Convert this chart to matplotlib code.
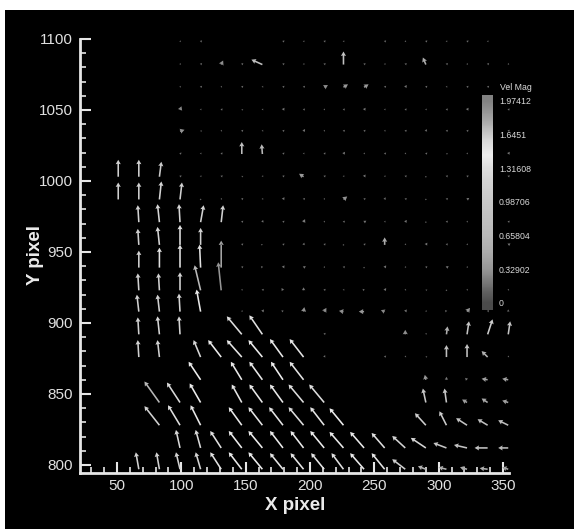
import numpy as np
import matplotlib
matplotlib.use("Agg")
import matplotlib.pyplot as plt
from matplotlib.colors import LinearSegmentedColormap, Normalize
from matplotlib.ticker import MultipleLocator
from matplotlib.patches import Rectangle
import matplotlib.transforms as mtransforms

W, H, DPI = 574, 529, 100
nan = np.nan

# grid of interrogation points (pixel coordinates)
x_grid = [51, 67, 83, 99, 115, 131, 147, 163, 179, 195, 211, 226, 242, 258, 274, 290, 306, 322, 338, 354]
y_grid = [797, 812, 828, 844, 860, 876, 892, 908, 923, 939, 955, 971, 987, 1003, 1019, 1035, 1050, 1066, 1082, 1098]

# velocity components, one list per row (bottom row first), columns left->right
u_r00 = [nan,-0.2,-0.2,-0.27,-0.33,-0.73,-0.87,-0.93,-0.87,-0.87,-0.87,-0.8,-0.93,-0.87,-0.87,-0.53,-0.53,-0.47,-0.53,-0.4]
v_r00 = [nan,1.13,1.13,1.13,1.13,1.13,1.13,1.13,1.07,1.07,1.07,1.07,1.07,1.07,0.67,0.2,0.13,0.13,0.07,0.13]
u_r01 = [nan,nan,nan,-0.27,-0.33,-0.73,-0.87,-0.93,-0.87,-0.87,-0.93,-0.93,-0.93,-0.87,-0.87,-1.0,-0.87,-0.87,-0.87,-0.67]
v_r01 = [nan,nan,nan,1.2,1.2,1.13,1.13,1.13,1.13,1.13,1.13,1.07,1.07,1.0,0.8,0.67,0.33,0.2,0.0,0.0]
u_r02 = [nan,nan,-1.0,-0.8,-0.67,nan,-0.87,-0.93,-0.93,-1.0,-0.93,-0.93,nan,nan,nan,-0.73,-0.47,-0.73,-0.67,-0.67]
v_r02 = [nan,nan,1.27,1.33,1.33,nan,1.2,1.2,1.2,1.2,1.2,1.13,nan,nan,nan,0.8,0.93,0.47,0.4,0.33]
u_r03 = [nan,nan,-1.0,-0.87,-0.73,nan,-0.67,-0.87,-0.87,-1.0,-1.0,nan,nan,nan,nan,-0.2,-0.13,-0.33,-0.4,-0.4]
v_r03 = [nan,nan,1.4,1.33,1.27,nan,1.2,1.2,1.2,1.2,1.2,nan,nan,nan,nan,0.93,0.93,0.2,0.27,0.13]
u_r04 = [nan,nan,nan,nan,-0.8,nan,-0.73,-0.87,-0.8,-0.93,nan,nan,nan,nan,nan,-0.07,0.0,-0.13,-0.4,-0.4]
v_r04 = [nan,nan,nan,nan,1.2,nan,1.2,1.2,1.2,1.2,nan,nan,nan,nan,nan,0.33,0.2,0.13,0.07,0.07]
u_r05 = [nan,-0.07,-0.13,nan,-0.47,-0.87,-1.0,-0.93,-0.87,-0.93,0.07,nan,nan,0.1,0.05,0.1,0.0,0.0,-0.4,0.05]
v_r05 = [nan,1.13,1.13,nan,1.13,1.13,1.13,1.13,1.2,1.2,0.13,nan,nan,0.1,0.1,0.05,0.8,0.87,0.4,0.1]
u_r06 = [nan,-0.07,-0.13,-0.07,nan,nan,-1.0,-0.87,nan,nan,0.1,nan,nan,nan,0.0,0.05,0.07,0.13,0.33,0.13]
v_r06 = [nan,1.13,1.2,1.2,nan,nan,1.2,1.27,nan,nan,0.1,nan,nan,nan,0.3,0.1,0.53,0.87,1.0,0.87]
u_r07 = [nan,-0.13,-0.13,-0.07,-0.27,nan,0.05,0.1,-0.1,0.05,0.15,-0.3,-0.35,-0.25,0.1,0.05,-0.1,0.2,0.1,0.0]
v_r07 = [nan,1.13,1.13,1.2,1.47,nan,0.1,0.15,0.1,0.3,0.25,0.05,0.0,0.1,0.15,0.1,0.1,0.25,0.1,0.15]
u_r08 = [nan,-0.07,-0.07,0.0,-0.4,-0.2,0.05,0.1,-0.1,0.0,0.1,0.05,-0.1,0.1,0.05,0.1,0.0,0.05,0.1,0.05]
v_r08 = [nan,1.13,1.13,1.2,1.67,1.87,0.1,0.1,0.15,0.2,0.1,0.1,0.1,0.15,0.1,0.05,0.1,0.1,0.1,0.1]
u_r09 = [nan,0.0,0.0,0.0,-0.07,0.0,0.1,-0.1,0.1,0.15,0.05,0.1,0.0,0.1,0.05,0.1,0.15,0.05,0.0,0.1]
v_r09 = [nan,1.13,1.33,1.53,1.53,1.8,0.1,0.1,0.15,0.1,0.1,0.1,0.1,0.15,0.1,0.1,0.1,0.1,0.15,0.1]
u_r10 = [nan,-0.07,-0.13,0.0,0.0,0.05,0.1,-0.1,0.1,0.05,0.1,0.0,0.1,0.0,0.05,0.1,0.1,0.05,0.1,0.15]
v_r10 = [nan,1.07,1.2,1.33,1.13,0.1,0.1,0.05,0.1,0.15,0.1,0.1,0.1,0.5,0.1,0.15,0.1,0.1,0.1,0.1]
u_r11 = [nan,-0.07,-0.13,-0.07,0.2,0.13,0.1,0.05,0.1,0.1,0.05,0.1,0.15,0.05,0.1,0.0,0.1,0.05,0.1,0.1]
v_r11 = [nan,1.13,1.2,1.2,1.13,1.13,0.1,0.15,0.1,0.2,0.1,0.1,0.1,0.1,0.15,0.1,0.1,0.1,0.15,0.1]
u_r12 = [0.0,0.0,0.13,0.13,0.0,0.05,0.1,0.05,0.1,0.1,0.05,0.25,0.1,0.05,0.1,0.0,0.1,0.15,0.05,0.1]
v_r12 = [1.13,1.13,1.2,1.13,0.1,0.1,0.1,0.1,0.15,0.1,0.1,0.2,0.1,0.15,0.1,0.1,0.1,0.1,0.1,0.1]
u_r13 = [0.0,0.0,0.13,0.1,0.05,0.1,0.1,0.05,0.1,-0.3,0.1,0.05,0.1,0.05,0.1,0.0,0.1,0.1,0.05,0.1]
v_r13 = [1.13,1.13,1.0,0.1,0.1,0.1,0.05,0.1,0.1,0.2,0.1,0.1,0.15,0.1,0.1,0.1,0.1,0.1,0.1,0.1]
u_r14 = [nan,nan,nan,0.1,0.05,0.1,0.0,-0.05,0.1,0.05,0.1,0.1,0.05,0.1,0.05,0.1,0.1,0.05,0.1,0.1]
v_r14 = [nan,nan,nan,0.1,0.1,0.1,0.8,0.65,0.1,0.1,0.1,0.15,0.1,0.1,0.1,0.1,0.05,0.1,0.1,0.15]
u_r15 = [nan,nan,nan,0.3,0.1,0.05,0.1,0.05,0.1,0.1,0.05,0.1,0.1,0.05,0.1,0.05,0.1,0.1,0.05,0.1]
v_r15 = [nan,nan,nan,0.1,0.05,0.1,0.1,0.1,0.1,0.15,0.1,0.1,0.1,0.1,0.1,0.15,0.1,0.1,0.1,0.1]
u_r16 = [nan,nan,nan,0.1,0.05,0.1,0.1,0.05,0.1,0.1,0.05,0.1,0.1,0.05,0.1,0.05,0.1,0.1,0.05,0.1]
v_r16 = [nan,nan,nan,0.25,0.1,0.1,0.05,0.1,0.15,0.1,0.1,0.1,0.15,0.1,0.1,0.1,0.1,0.15,0.1,0.1]
u_r17 = [nan,nan,nan,0.05,0.1,0.05,0.1,0.05,0.1,0.1,0.25,0.3,0.3,0.1,0.1,0.1,0.05,0.1,0.1,0.05]
v_r17 = [nan,nan,nan,0.1,0.1,0.1,0.1,0.1,0.1,0.1,0.15,0.2,0.2,0.1,0.15,0.1,0.1,0.1,0.1,0.1]
u_r18 = [nan,nan,nan,0.05,0.1,0.13,0.1,-0.73,0.1,0.05,0.1,0.0,0.1,0.05,0.1,-0.2,0.1,0.05,0.1,0.05]
v_r18 = [nan,nan,nan,0.1,0.1,0.27,0.1,0.33,0.1,0.1,0.1,0.87,0.1,0.1,0.1,0.47,0.1,0.1,0.1,0.1]
u_r19 = [nan,nan,nan,0.05,0.1,nan,nan,nan,0.1,0.05,0.1,0.05,nan,0.1,0.05,0.1,0.05,0.1,0.05,nan]
v_r19 = [nan,nan,nan,0.1,0.1,nan,nan,nan,0.1,0.1,0.1,0.1,nan,0.1,0.1,0.1,0.1,0.1,0.1,nan]

u_rows = [u_r00,u_r01,u_r02,u_r03,u_r04,u_r05,u_r06,u_r07,u_r08,u_r09,
          u_r10,u_r11,u_r12,u_r13,u_r14,u_r15,u_r16,u_r17,u_r18,u_r19]
v_rows = [v_r00,v_r01,v_r02,v_r03,v_r04,v_r05,v_r06,v_r07,v_r08,v_r09,
          v_r10,v_r11,v_r12,v_r13,v_r14,v_r15,v_r16,v_r17,v_r18,v_r19]

cbar_ticks = [0, 0.32902, 0.65804, 0.98706, 1.31608, 1.6451, 1.97412]
cbar_labels = ["0", "0.32902", "0.65804", "0.98706", "1.31608", "1.6451", "1.97412"]
vmax = 1.97412

# Tecplot-like gray ramp
cm_vals = [0, 0.1, 0.2, 0.33, 0.5, 0.66, 0.99, 1.2, 1.32, 1.45, 1.6, 1.8, vmax]
cm_gray = [75, 95, 120, 150, 172, 185, 200, 212, 222, 238, 215, 165, 130]
cmap = LinearSegmentedColormap.from_list(
    "velgray", [(v / vmax, (g / 255,) * 3) for v, g in zip(cm_vals, cm_gray)])
norm = Normalize(0, vmax, clip=True)

fig = plt.figure(figsize=(W / DPI, H / DPI), dpi=DPI)
fig.patch.set_facecolor("white")
fig.add_artist(Rectangle((5 / W, 0), 1, (H - 10) / H, transform=fig.transFigure,
                         facecolor="black", edgecolor="none", zorder=-10))

ax = fig.add_axes([80 / W, (H - 472.5) / H, 429 / W, (472.5 - 39) / H])
ax.set_facecolor("none")

X, Y = np.meshgrid(np.array(x_grid, float), np.array(y_grid, float))
U = np.array(u_rows, float)
V = np.array(v_rows, float)
M = np.hypot(U, V)
ok = np.isfinite(U) & np.isfinite(V)
ax.quiver(X[ok], Y[ok], U[ok], V[ok], M[ok], cmap=cmap, norm=norm,
          units="dots", width=1.6, headwidth=3.2, headlength=2.8, headaxislength=2.5,
          scale=1 / 15, scale_units="dots", pivot="tail", clip_on=False, zorder=3)

ax.set_xlim(21.3, 354.6)
ax.set_ylim(794.7, 1100)
ax.set_xticks([50, 100, 150, 200, 250, 300, 350])
ax.set_yticks([800, 850, 900, 950, 1000, 1050, 1100])
ax.xaxis.set_minor_locator(MultipleLocator(10))
ax.yaxis.set_minor_locator(MultipleLocator(10))
light = (0.9, 0.9, 0.9)
for s in ["top", "right"]:
    ax.spines[s].set_visible(False)
for s in ["left", "bottom"]:
    ax.spines[s].set_color(light)
    ax.spines[s].set_linewidth(2)
ax.tick_params(which="major", direction="in", length=8, width=1.5, colors=light,
               labelsize=11, pad=5)
ax.tick_params(which="minor", direction="in", length=4, width=1.2, colors=light)
for lab in ax.get_xticklabels() + ax.get_yticklabels():
    lab.set_fontfamily("Liberation Sans")
    lab.set_color((0.88, 0.88, 0.88))

fig.text(295 / W, 1 - 510 / H, "X pixel", ha="center", va="baseline",
         fontsize=13.5, fontweight="bold", color=(0.92, 0.92, 0.92), family="Liberation Sans")
fig.text(36 / W, 1 - 255 / H, "Y pixel", ha="center", va="center", rotation=90,
         fontsize=13.5, fontweight="bold", color=(0.92, 0.92, 0.92), family="Liberation Sans")

# colour legend
cax = fig.add_axes([482 / W, (H - 310) / H, 11 / W, 215 / H])
grad = np.linspace(-0.06, 2.04, 256).reshape(-1, 1)
cax.imshow(grad, cmap=cmap, norm=norm, aspect="auto", origin="lower",
           extent=[0, 1, -0.06, 2.04])
cax.set_ylim(-0.06, 2.04)
cax.axis("off")
tr = mtransforms.blended_transform_factory(cax.transAxes, cax.transData)
for t, lab in zip(cbar_ticks, cbar_labels):
    cax.text(1.55, t, lab, transform=tr, ha="left", va="center", fontsize=6.3,
             color=(0.85, 0.85, 0.85), family="Liberation Sans")
fig.text(500 / W, 1 - 87 / H, "Vel Mag", ha="left", va="center", fontsize=6.3,
         color=(0.85, 0.85, 0.85), family="Liberation Sans")

fig.savefig("out.png", dpi=DPI, facecolor=fig.get_facecolor())
